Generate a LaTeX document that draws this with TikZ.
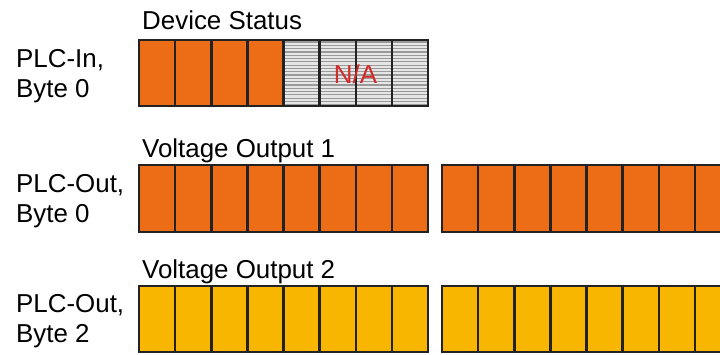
\documentclass[tikz,border=0pt]{standalone}
\usepackage{fontspec}
\setmainfont{Liberation Sans}
\definecolor{borange}{HTML}{EC6D15}
\definecolor{byellow}{HTML}{F8B600}
\definecolor{bline}{HTML}{222222}
\definecolor{nagray}{HTML}{E6E6E6}
\definecolor{nastripe}{HTML}{999999}
\definecolor{nared}{HTML}{D42A2A}
\newcommand{\bytegroup}[4]{%
  \fill[#4] (#1,#2) rectangle (#1+289,#3);
  \foreach \i in {1,...,7} \draw[celline] (#1+36.125*\i,#2) -- (#1+36.125*\i,#3);
  \draw[celline] (#1,#2) rectangle (#1+289,#3);
}
\begin{document}
\begin{tikzpicture}[x=1bp,y=-1bp,
  lbl/.style={inner sep=0, anchor=base west, font=\fontsize{25.9bp}{30bp}\selectfont},
  celline/.style={draw=bline, line width=2.5bp},
]
\useasboundingbox (0,0) rectangle (720,354);
\clip (0,0) rectangle (720,354);
% row 1: device status
\fill[borange] (139,40) rectangle (283.5,106);
\fill[nagray] (283.5,40) rectangle (428,106);
\foreach \y in {42,45.3,...,105} \draw[nastripe, line width=1.2bp] (283.5,\y) -- (428,\y);
\foreach \i in {1,...,7} \draw[celline] (139+36.125*\i,40) -- (139+36.125*\i,106);
\draw[celline] (139,40) rectangle (428,106);
\node[inner sep=0, anchor=base, text=nared, font=\fontsize{25.9bp}{30bp}\selectfont] (na) at (355.5,83) {N/A};
% row 2
\bytegroup{139}{165}{232}{borange}
\bytegroup{442}{165}{232}{borange}
% row 3
\bytegroup{139}{286}{352}{byellow}
\bytegroup{442}{286}{352}{byellow}
% titles
\node[lbl] (t1) at (142,29) {Device Status};
\node[lbl] (t2) at (142,157) {Voltage Output 1};
\node[lbl] (t3) at (142,278) {Voltage Output 2};
% row labels
\node[lbl] (l1a) at (16,67) {PLC-In,};
\node[lbl] (l1b) at (16,97) {Byte 0};
\node[lbl] (l2a) at (16,192) {PLC-Out,};
\node[lbl] (l2b) at (16,222) {Byte 0};
\node[lbl] (l3a) at (16,312) {PLC-Out,};
\node[lbl] (l3b) at (16,342) {Byte 2};
\end{tikzpicture}
\end{document}
